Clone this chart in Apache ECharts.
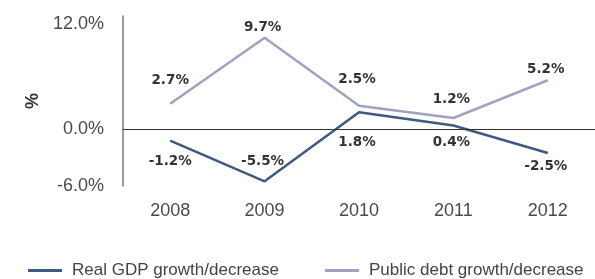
<!DOCTYPE html>
<html>
<head>
<meta charset="utf-8">
<script src="https://cdn.jsdelivr.net/npm/echarts@6/dist/echarts.min.js"></script>
<style>
html,body{margin:0;padding:0;background:#fff;}
#chart{width:595px;height:279px;}
</style>
</head>
<body>
<div id="chart"></div>
<script>
const years = ['2008', '2009', '2010', '2011', '2012'];
const gdpGrowth = [-1.2, -5.5, 1.8, 0.4, -2.5];
const debtGrowth = [2.7, 9.7, 2.5, 1.2, 5.2];
const yTicks = [-6, 0, 12];
const gdpName = 'Real GDP growth/decrease';
const debtName = 'Public debt growth/decrease';

// label placement (style, not data)
const gdpLabelPos = [['bottom', 14, 0], ['top', 13, -2], ['bottom', 23, -2], ['bottom', 10, -2], ['bottom', 7, -2]];
const debtLabelPos = [['top', 16, 0], ['top', 3, -2], ['top', 19, -2], ['top', 11, -2], ['top', 4, -2]];

function mkData(vals, pos) {
  return vals.map((v, i) => ({
    value: v,
    label: { show: true, position: pos[i][0], distance: pos[i][1], offset: [pos[i][2], 0] }
  }));
}

function labelStyle() {
  return {
    show: true,
    fontFamily: 'DejaVu Sans',
    fontWeight: 'bold',
    fontSize: 13.5,
    color: '#333',
    formatter: p => Number(p.value).toFixed(1) + '%'
  };
}

const chart = echarts.init(document.getElementById('chart'));
chart.setOption({
  animation: false,
  grid: { left: 123, width: 490, top: 16, height: 170 },
  xAxis: {
    type: 'category',
    data: years,
    boundaryGap: true,
    position: 'bottom',
    axisLine: { show: false, onZero: false },
    axisTick: { show: false },
    axisLabel: { margin: 16, fontFamily: 'Liberation Sans', fontSize: 18, color: '#4a4a4a' }
  },
  yAxis: {
    type: 'value',
    min: -6,
    max: 12,
    interval: 6,
    name: '%',
    nameLocation: 'middle',
    nameRotate: 90,
    nameGap: 76,
    nameTextStyle: { fontFamily: 'Liberation Sans', fontWeight: 'bold', fontSize: 18, color: '#333' },
    axisLine: { show: true, lineStyle: { color: '#777', width: 1.5 } },
    axisTick: { show: false },
    splitLine: { show: false },
    axisLabel: {
      margin: 19,
      fontFamily: 'Liberation Sans',
      fontSize: 18,
      color: '#4a4a4a',
      formatter: v => yTicks.indexOf(v) < 0 ? '' : (v === 12 ? '{top|' + v.toFixed(1) + '%}' : v.toFixed(1) + '%'),
      rich: { top: { fontFamily: 'Liberation Sans', fontSize: 18, color: '#4a4a4a', padding: [16, 0, 0, 0] } }
    }
  },
  legend: [
    {
      data: [gdpName], left: 28, top: 262, padding: 0,
      icon: 'rect', itemWidth: 34, itemHeight: 3,
      textStyle: { fontFamily: 'Liberation Sans', fontSize: 17, color: '#444', padding: [0, 0, 0, 5] }
    },
    {
      data: [debtName], left: 325, top: 262, padding: 0,
      icon: 'rect', itemWidth: 34, itemHeight: 3,
      textStyle: { fontFamily: 'Liberation Sans', fontSize: 17, color: '#444', padding: [0, 0, 0, 5] }
    }
  ],
  series: [
    {
      name: gdpName,
      type: 'line',
      data: mkData(gdpGrowth, gdpLabelPos),
      symbol: 'circle',
      symbolSize: 0.1,
      showSymbol: true,
      lineStyle: { color: '#3d5a80', width: 2.5 },
      itemStyle: { color: '#3d5a80' },
      label: labelStyle(),
      markLine: {
        silent: true,
        symbol: 'none',
        label: { show: false },
        lineStyle: { color: '#333', width: 1, type: 'solid' },
        data: [{ yAxis: 0 }]
      },
      z: 3
    },
    {
      name: debtName,
      type: 'line',
      data: mkData(debtGrowth, debtLabelPos),
      symbol: 'circle',
      symbolSize: 0.1,
      showSymbol: true,
      lineStyle: { color: '#a0a3bf', width: 2.5 },
      itemStyle: { color: '#a0a3bf' },
      label: labelStyle(),
      z: 2
    }
  ]
});
</script>
</body>
</html>
